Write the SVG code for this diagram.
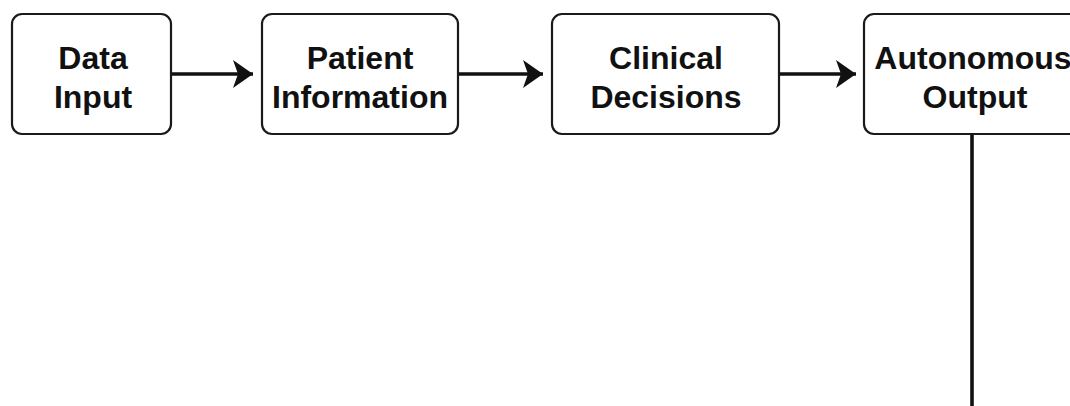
<svg xmlns="http://www.w3.org/2000/svg" width="1070" height="406" viewBox="0 0 1070 406">
<style>
.box{fill:#fff;stroke:#1a1a1a;stroke-width:2.2}
.lbl{font-family:"Liberation Sans",Arial,sans-serif;font-weight:bold;font-size:32px;fill:#111;text-anchor:middle}
.conn{fill:none;stroke:#111;stroke-width:3.6}
</style>
<defs>
<marker id="ah" markerUnits="userSpaceOnUse" markerWidth="24" markerHeight="30" refX="20" refY="14" orient="auto">
<path d="M0,0 L20,14 L0,28 L5,14 Z" fill="#111"/>
</marker>
</defs>
<rect width="1070" height="406" fill="#fff"/>
<g id="connectors">
<line class="conn" x1="172" y1="74" x2="253" y2="74" marker-end="url(#ah)"/>
<line class="conn" x1="459" y1="74" x2="543" y2="74" marker-end="url(#ah)"/>
<line class="conn" x1="780" y1="74" x2="856" y2="74" marker-end="url(#ah)"/>
<line class="conn" x1="972" y1="134" x2="972" y2="406"/>
</g>
<g id="n1">
<rect class="box" x="12" y="14" width="159" height="120" rx="10"/>
<text class="lbl" x="93" y="69">Data</text>
<text class="lbl" x="93" y="108">Input</text>
</g>
<g id="n2">
<rect class="box" x="262" y="14" width="196" height="120" rx="10"/>
<text class="lbl" x="360" y="69">Patient</text>
<text class="lbl" x="360" y="108">Information</text>
</g>
<g id="n3">
<rect class="box" x="552" y="14" width="227" height="120" rx="10"/>
<text class="lbl" x="666" y="69">Clinical</text>
<text class="lbl" x="666" y="108">Decisions</text>
</g>
<g id="n4">
<rect class="box" x="864" y="14" width="218" height="120" rx="10"/>
<text class="lbl" x="973" y="69">Autonomous</text>
<text class="lbl" x="975" y="108">Output</text>
</g>
</svg>
